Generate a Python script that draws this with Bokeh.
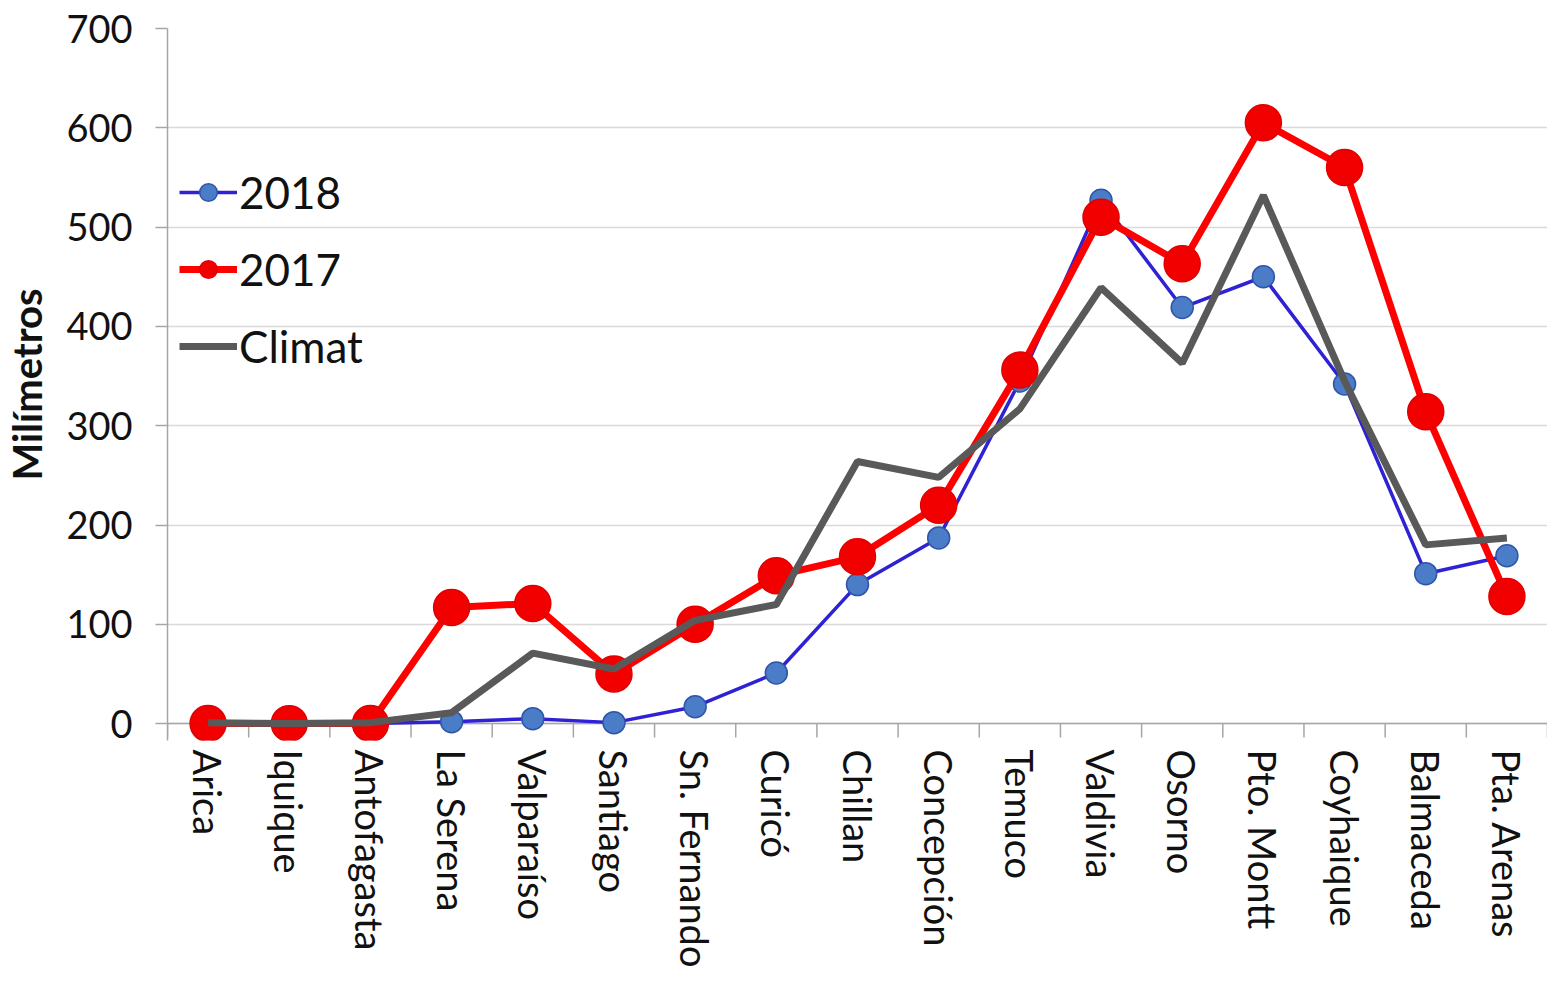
import math
from bokeh.plotting import figure
from bokeh.models import FactorRange, Range1d, SingleIntervalTicker, Span, Legend, LegendItem
from bokeh.embed import file_html
from bokeh.resources import INLINE

cities = ["Arica", "Iquique", "Antofagasta", "La Serena", "Valparaíso", "Santiago",
          "Sn. Fernando", "Curicó", "Chillan", "Concepción", "Temuco", "Valdivia",
          "Osorno", "Pto. Montt", "Coyhaique", "Balmaceda", "Pta. Arenas"]
v2018 = [0, 0, 0, 2, 5, 1, 17, 51, 140, 187, 345, 527, 419, 450, 342, 151, 169]
v2017 = [0, 0, 0, 117, 121, 50, 100, 149, 168, 220, 356, 510, 463, 605, 560, 314, 128]
climat = [1, 0, 1, 11, 71, 55, 104, 120, 264, 248, 317, 439, 363, 532, 345, 180, 187]
y_ticks_interval = 100

FONT = "Lato"

p = figure(x_range=FactorRange(factors=cities), y_range=Range1d(-17, 700),
           width=1547, height=972, output_backend="svg", toolbar_location=None,
           min_border_left=158, min_border_right=0, min_border_top=28, min_border_bottom=232)
p.outline_line_color = None
p.background_fill_color = "white"
p.border_fill_color = "white"

# grid
p.xgrid.grid_line_color = None
p.ygrid.grid_line_color = "#D9D9D9"
p.ygrid.grid_line_width = 1.5
p.yaxis.ticker = SingleIntervalTicker(interval=y_ticks_interval)
p.ygrid.ticker = SingleIntervalTicker(interval=y_ticks_interval)

# y axis
yax = p.yaxis[0]
yax.axis_line_color = "#A6A6A6"
yax.axis_line_width = 1.5
yax.major_tick_line_color = "#A6A6A6"
yax.major_tick_line_width = 1.5
yax.major_tick_out = 12
yax.major_tick_in = 0
yax.minor_tick_line_color = None
yax.major_label_text_font = FONT
yax.major_label_text_font_size = "38px"
yax.major_label_text_color = "#111111"
yax.major_label_standoff = 23
yax.axis_label = "Milímetros"
yax.axis_label_text_font = FONT
yax.axis_label_text_font_style = "bold"
yax.axis_label_text_font_size = "40px"
yax.axis_label_text_color = "#111111"
yax.axis_label_standoff = 12

# x axis
xax = p.xaxis[0]
xax.axis_line_color = None
xax.major_tick_line_color = None
xax.major_tick_out = 0
xax.major_tick_in = 0
xax.major_label_orientation = -math.pi / 2
xax.major_label_text_font = FONT
xax.major_label_text_font_size = "38px"
xax.major_label_text_color = "#111111"
xax.major_label_standoff = 9

# zero line (horizontal axis line)
p.add_layout(Span(location=0, dimension="width", line_color="#A6A6A6", line_width=1.5, level="underlay"))

# category boundary ticks
bx = [(c, -0.5) for c in cities] + [(cities[-1], 0.5)]
p.segment(x0=bx, y0=[0] * len(bx), x1=bx, y1=[-14] * len(bx), line_color="#A6A6A6", line_width=1.5)

# series
l18 = p.line(cities, v2018, line_color="#2E22D4", line_width=3.5)
s18 = p.scatter(cities, v2018, size=22, fill_color="#4A7CC8", line_color="#2F55A8", line_width=1.5)
l17 = p.line(cities, v2017, line_color="#FF0000", line_width=7)
s17 = p.scatter(cities, v2017, size=36, fill_color="#F20000", line_color="#E00000", line_width=1.5)
lcl = p.line(cities, climat, line_color="#595959", line_width=7)

legend = Legend(items=[LegendItem(label="2018", renderers=[l18, s18]),
                       LegendItem(label="2017", renderers=[l17, s17]),
                       LegendItem(label="Climat", renderers=[lcl])],
                location=(12, 368), orientation="vertical")
legend.background_fill_alpha = 0
legend.border_line_color = None
legend.padding = 0
legend.margin = 0
legend.spacing = 25
legend.glyph_width = 58
legend.glyph_height = 44
legend.label_height = 44
legend.label_standoff = 2
legend.label_text_font = FONT
legend.label_text_font_size = "44px"
legend.label_text_color = "#111111"
p.add_layout(legend)

open("out.html", "w").write(file_html(p, INLINE))
